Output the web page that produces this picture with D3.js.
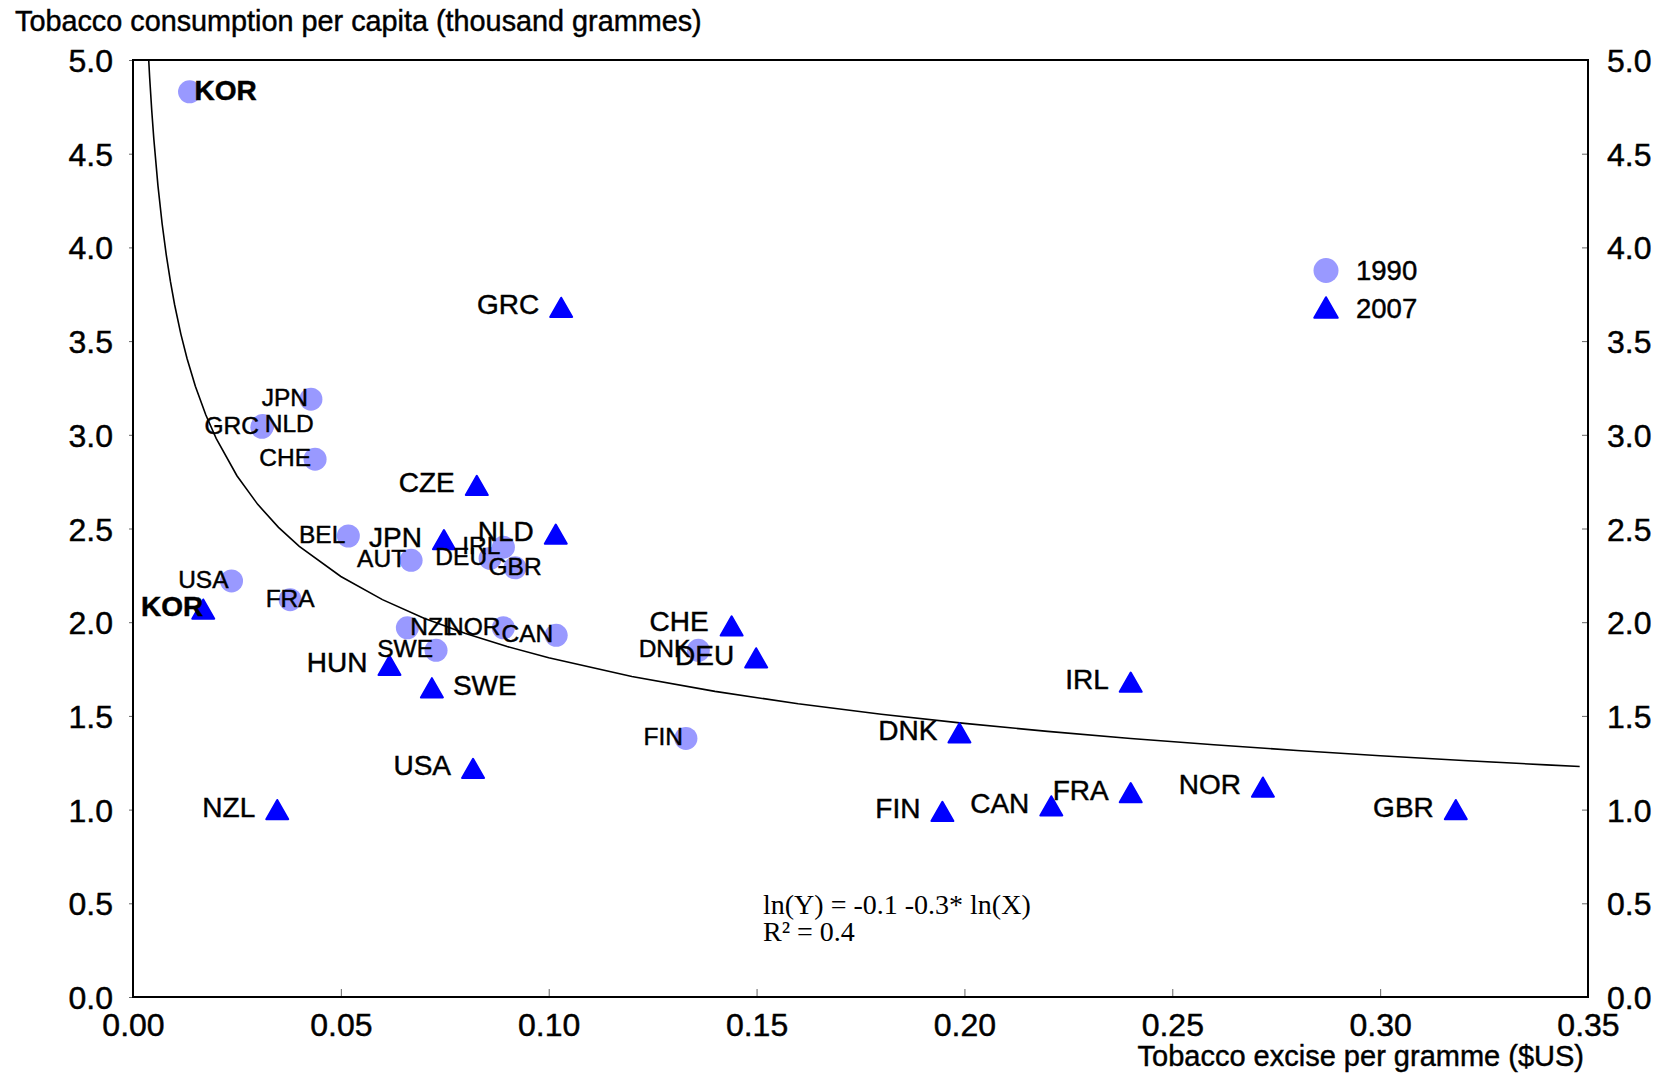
<!DOCTYPE html>
<html><head><meta charset="utf-8">
<script src="https://cdn.jsdelivr.net/npm/d3@7"></script>
<style>
body{margin:0;background:#fff}
text{font-family:"Liberation Sans",Arial,Helvetica,sans-serif;fill:#000}
text.sans{stroke:#000;stroke-width:0.45px;paint-order:stroke}
</style>
</head><body>
<svg id="chart" width="1660" height="1079"></svg>
<script>
// ---------- data ----------
const countries1990 = ["KOR","JPN","GRC","NLD","CHE","BEL","AUT","USA","FRA","NZL","SWE","NOR","CAN","IRL","DEU","GBR","DNK","FIN"];
const excise1990 = [0.0136,0.0428,0.0310,0.0312,0.0438,0.0518,0.0669,0.0237,0.0378,0.0660,0.0729,0.0891,0.1018,0.0891,0.0859,0.0919,0.1360,0.1330];
const consumption1990 = [4.83,3.19,3.04,3.05,2.87,2.46,2.33,2.22,2.12,1.97,1.85,1.97,1.93,2.40,2.34,2.29,1.85,1.38];

const countries2007 = ["GRC","CZE","JPN","NLD","KOR","HUN","SWE","USA","NZL","CHE","DEU","IRL","DNK","FIN","CAN","FRA","NOR","GBR"];
const excise2007 = [0.1030,0.0827,0.0748,0.1017,0.0169,0.0617,0.0719,0.0818,0.0347,0.1440,0.1499,0.2400,0.1988,0.1947,0.2209,0.2400,0.2718,0.3182];
const consumption2007 = [3.68,2.73,2.44,2.47,2.07,1.77,1.65,1.22,1.00,1.98,1.81,1.68,1.41,0.99,1.02,1.09,1.12,1.00];

const yTicks = [0.0,0.5,1.0,1.5,2.0,2.5,3.0,3.5,4.0,4.5,5.0];
const xTicks = [0.00,0.05,0.10,0.15,0.20,0.25,0.30,0.35];

// fitted regression ln(Y) = a + b ln(X)
const fitIntercept = -0.1205;
const fitSlope = -0.31;
const fitX = [0.0035,0.004,0.0045,0.005,0.006,0.007,0.008,0.009,0.010,0.0115,0.013,0.015,0.0175,0.020,0.025,0.030,0.035,0.040,0.050,0.060,0.070,0.080,0.090,0.100,0.120,0.140,0.160,0.180,0.200,0.220,0.240,0.260,0.280,0.300,0.320,0.340,0.348];

const yTitle = "Tobacco consumption per capita (thousand grammes)";
const xTitle = "Tobacco excise per gramme ($US)";
const eqLine1 = "ln(Y) = -0.1 -0.3* ln(X)";
const eqLine2 = "R\u00B2 = 0.4";
const legendLabels = ["1990","2007"];

// ---------- label layout (not data) ----------
const lab1990 = {KOR:{a:"start",dx:5,dy:8,bold:true}, NLD:{a:"start",dx:2}, NZL:{a:"start",dx:3}, FRA:{a:"middle",dx:0}, GBR:{a:"middle",dx:0}, DNK:{a:"end",dx:-8}, CHE:{a:"end",dx:-4}, AUT:{a:"end",dx:-5}};
const lab2007 = {KOR:{a:"end",dx:0,bold:true}, SWE:{a:"start",dx:21}, CHE:{a:"end",dx:-23,dy:5}};

// ---------- layout ----------
const L = 133, R = 1588, T = 60, B = 997;
const svg = d3.select("#chart");
const tickFont = "32px";

const x = d3.scaleLinear().domain([0,0.35]).range([L,R]);
const y = d3.scaleLinear().domain([0,5]).range([B,T]);

svg.append("defs").append("clipPath").attr("id","plotclip")
  .append("rect").attr("x",L).attr("y",T).attr("width",R-L).attr("height",B-T);

// axes
const leftAxis = d3.axisLeft(y).tickValues(yTicks).tickSize(4).tickFormat(d3.format(".1f"));
const rightAxis = d3.axisRight(y).tickValues(yTicks).tickSize(-6).tickFormat(d3.format(".1f"));
const bottomAxis = d3.axisBottom(x).tickValues(xTicks).tickSize(-8).tickFormat(d3.format(".2f"));

const gl = svg.append("g").attr("transform",`translate(${L},0)`).call(leftAxis);
gl.select(".domain").remove();
gl.selectAll(".tick line").attr("stroke","#666");
gl.selectAll(".tick text").attr("class","sans").attr("x",-20).attr("dy","0.36em").style("font-size",tickFont).style("font-family","'Liberation Sans',Arial,sans-serif");

const gr = svg.append("g").attr("transform",`translate(${R},0)`).call(rightAxis);
gr.select(".domain").remove();
gr.selectAll(".tick line").attr("stroke","#666");
gr.selectAll(".tick text").attr("class","sans").attr("x",19).attr("text-anchor","start").attr("dy","0.36em").style("font-size",tickFont).style("font-family","'Liberation Sans',Arial,sans-serif");

const gb = svg.append("g").attr("transform",`translate(0,${B})`).call(bottomAxis);
gb.select(".domain").remove();
gb.selectAll(".tick line").attr("stroke","#666");
gb.selectAll(".tick text").attr("class","sans").attr("y",0).attr("dy","39px").style("font-size",tickFont).style("font-family","'Liberation Sans',Arial,sans-serif");

// frame
svg.append("rect").attr("x",L).attr("y",T).attr("width",R-L).attr("height",B-T)
  .attr("fill","none").attr("stroke","#000").attr("stroke-width",2);

// regression curve
const fitPts = fitX.map(v => [v, Math.exp(fitIntercept + fitSlope*Math.log(v))]);
svg.append("path").datum(fitPts)
  .attr("clip-path","url(#plotclip)")
  .attr("fill","none").attr("stroke","#000").attr("stroke-width",1.6)
  .attr("d", d3.line().x(d=>x(d[0])).y(d=>y(d[1])));

// markers
const triType = {draw(ctx,size){const s=Math.sqrt(size), h=s*0.875; ctx.moveTo(0,-h/2); ctx.lineTo(s/2,h/2); ctx.lineTo(-s/2,h/2); ctx.closePath();}};
const d1990 = countries1990.map((c,i)=>({c, x:excise1990[i], y:consumption1990[i]}));
const d2007 = countries2007.map((c,i)=>({c, x:excise2007[i], y:consumption2007[i]}));

svg.append("g").selectAll("circle").data(d1990).join("circle")
  .attr("cx",d=>x(d.x)).attr("cy",d=>y(d.y)).attr("r",11.5).attr("fill","#9999ff");
svg.append("g").selectAll("path").data(d2007).join("path")
  .attr("transform",d=>`translate(${x(d.x)},${y(d.y)})`)
  .attr("d",d3.symbol().type(triType).size(22*22))
  .attr("fill","#0000ff").attr("stroke","#0000ff").attr("stroke-width",2).attr("stroke-linejoin","round");

// labels
svg.append("g").selectAll("text").data(d1990).join("text").attr("class","sans")
  .attr("x",d=>x(d.x)+((lab1990[d.c]||{}).dx ?? -3))
  .attr("y",d=>y(d.y)+((lab1990[d.c]||{}).dy ?? 7))
  .attr("text-anchor",d=>(lab1990[d.c]||{}).a || "end")
  .style("font-size",d=>(lab1990[d.c]||{}).bold?"28px":"24.5px")
  .style("font-weight",d=>(lab1990[d.c]||{}).bold?"bold":"normal")
  .text(d=>d.c);
svg.append("g").selectAll("text").data(d2007).join("text").attr("class","sans")
  .attr("x",d=>x(d.x)+((lab2007[d.c]||{}).dx ?? -22))
  .attr("y",d=>y(d.y)+((lab2007[d.c]||{}).dy ?? 7))
  .attr("text-anchor",d=>(lab2007[d.c]||{}).a || "end")
  .style("font-size","28px")
  .style("font-weight",d=>(lab2007[d.c]||{}).bold?"bold":"normal")
  .text(d=>d.c);

// legend
const lg = svg.append("g");
lg.append("circle").attr("cx",1326).attr("cy",270.5).attr("r",12.5).attr("fill","#9999ff");
lg.append("path").attr("transform","translate(1326,307.5)")
  .attr("d",d3.symbol().type(triType).size(23.5*23.5))
  .attr("fill","#0000ff").attr("stroke","#0000ff").attr("stroke-width",2).attr("stroke-linejoin","round");
lg.selectAll("text").data(legendLabels).join("text").attr("class","sans")
  .attr("x",1356).attr("y",(d,i)=>280+i*38).style("font-size","27.5px").text(d=>d);

// titles
svg.append("text").attr("class","sans").attr("x",15).attr("y",31).style("font-size","28.8px").text(yTitle);
svg.append("text").attr("class","sans").attr("x",1584).attr("y",1066).attr("text-anchor","end").style("font-size","29px").text(xTitle);

// equation
const serif = "'Liberation Serif','Times New Roman',serif";
svg.append("text").attr("x",763).attr("y",914).style("font-size","28px").style("font-family",serif).text(eqLine1);
svg.append("text").attr("x",763).attr("y",941).style("font-size","28px").style("font-family",serif).text(eqLine2);
</script>
</body></html>
